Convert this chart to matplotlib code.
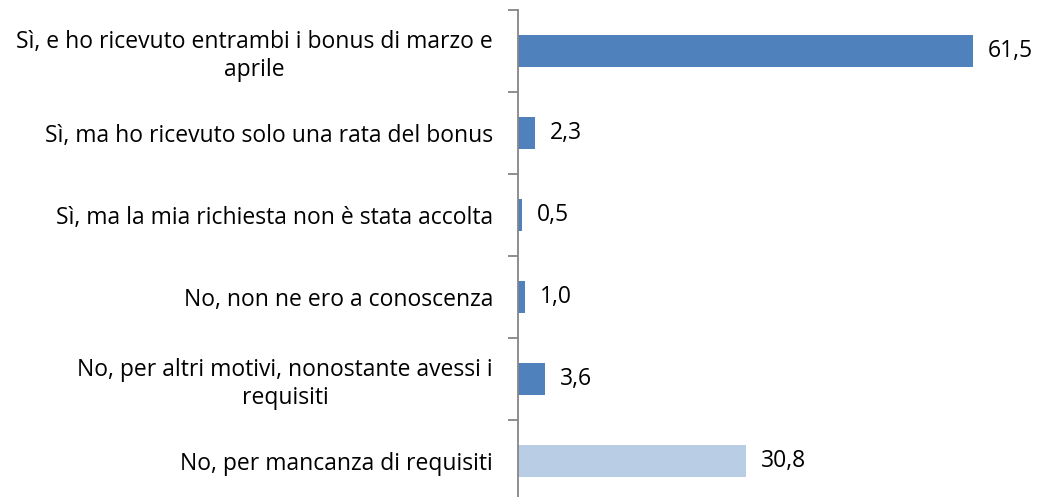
import numpy as np
import matplotlib.pyplot as plt

categories = [
    "Sì, e ho ricevuto entrambi i bonus di marzo e\naprile",
    "Sì, ma ho ricevuto solo una rata del bonus",
    "Sì, ma la mia richiesta non è stata accolta",
    "No, non ne ero a conoscenza",
    "No, per altri motivi, nonostante avessi i\nrequisiti",
    "No, per mancanza di requisiti",
]
values = [61.5, 2.3, 0.5, 1.0, 3.6, 30.8]
colors = ["#4F81BD"] * 5 + ["#B9CDE5"]

plt.rcParams['font.family'] = ['Open Sans', 'DejaVu Sans']
plt.rcParams['font.size'] = 16.5

fig = plt.figure(figsize=(10.41, 4.97), dpi=100)
ax = fig.add_axes([518 / 1041, 1 - 502 / 497, 518 / 1041, 492 / 497])

y = np.arange(len(categories))
ax.barh(y, values, height=0.4, color=colors, zorder=2)
for yi, v in zip(y, values):
    ax.text(v + 2.0, yi, f"{v:.1f}".replace('.', ','), va='center', ha='left')

ax.set_ylim(len(categories) - 0.5, -0.5)
ax.set_xlim(0, 70)
ax.set_yticks(y)
ax.set_yticklabels(categories, multialignment='center', linespacing=1.25)
ax.tick_params(axis='y', which='major', length=0, pad=18)
ax.set_yticks(np.arange(-0.5, len(categories)), minor=True)
ax.tick_params(axis='y', which='minor', length=7, color='#868686', width=1.3)
ax.set_xticks([])
for s in ['top', 'right', 'bottom']:
    ax.spines[s].set_visible(False)
ax.spines['left'].set_color('#868686')
ax.spines['left'].set_linewidth(1.3)

fig.savefig('out.png', dpi=100)
